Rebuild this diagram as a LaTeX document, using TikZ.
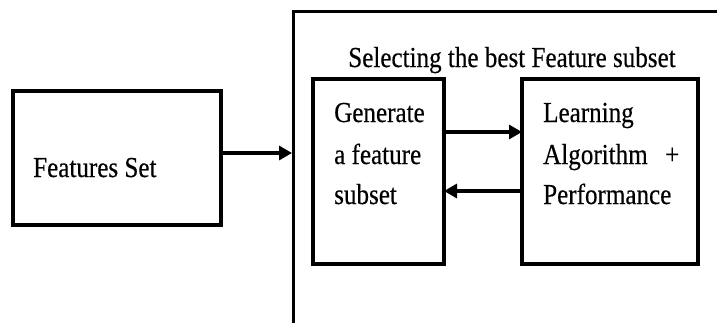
\documentclass[tikz,border=0pt]{standalone}
\usepackage{fontspec}
\setmainfont[FakeStretch=0.865,FakeBold=0.4]{Liberation Serif}
\usetikzlibrary{arrows.meta}
\begin{document}
\begin{tikzpicture}[x=1pt,y=-1pt,
  box/.style={draw, line width=3.4pt, inner sep=0pt, outer sep=0pt, anchor=north west},
  conn/.style={line width=3.2pt, -{Triangle[length=13pt,width=14pt]}},
  txt/.style={inner sep=0pt, anchor=base west, font=\fontsize{29}{41}\selectfont},
  title/.style={inner sep=0pt, anchor=base, font=\fontsize{29}{41}\selectfont}]
\useasboundingbox (0,0) rectangle (717,322);

% outer frame (open to the right and bottom)
\draw[line width=3pt] (293,324) -- (293,11) -- (720,11);
\coordinate (frame) at (292,153);
\node[title] (sel) at (512,67) {Selecting the best Feature subset};

% boxes
\node[box, minimum width=208pt, minimum height=134pt] (feat) at (13,91) {};
\node[box, minimum width=131pt, minimum height=185pt] (gen) at (313,79) {};
\node[box, minimum width=176pt, minimum height=185pt] (learn) at (522,79) {};

% arrow levels between the two inner boxes
\coordinate (fwd) at (0,132);
\coordinate (back) at (0,191);

% labels
\node[txt] (featlbl) at (33,177) {Features Set};
\node[txt] (gen1) at (334,122) {Generate};
\node[txt] (gen2) at (334,164) {a feature};
\node[txt] (gen3) at (334,204) {subset};
\node[txt] (learn1) at (543,122) {Learning};
\node[txt] (learn2) at (543,164) {Algorithm};
\node[txt] (learn2b) at (665,164) {+};
\node[txt] (learn3) at (543,204) {Performance};

% connectors
\draw[conn] (feat.east |- frame) -- (frame);
\draw[conn] (gen.east |- fwd) -- (learn.west |- fwd);
\draw[conn] (learn.west |- back) -- (gen.east |- back);
\end{tikzpicture}
\end{document}
